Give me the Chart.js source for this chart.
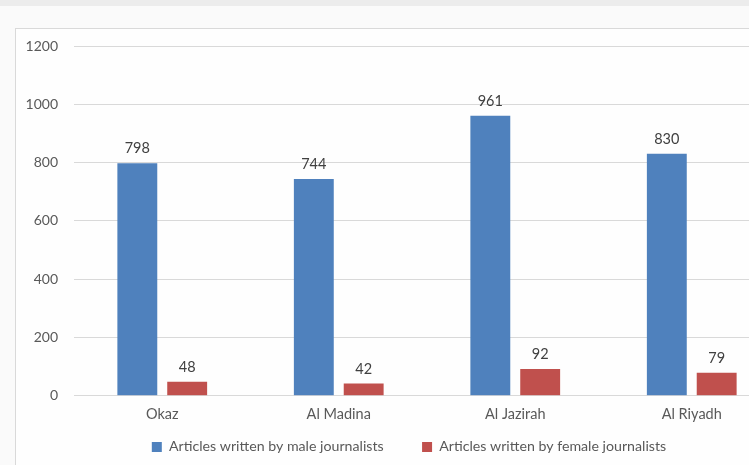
<!DOCTYPE html>
<html>
<head>
<meta charset="utf-8">
<script src="https://cdn.jsdelivr.net/npm/chart.js@4"></script>
<style>
  html, body { margin: 0; padding: 0; overflow: hidden; }
  body { width: 749px; height: 465px; background: #fafafa; position: relative; }
  .strip { position: absolute; left: 0; top: 0; width: 749px; height: 6px; background: #ececec; }
  .panel { position: absolute; left: 15px; top: 28px; width: 800px; height: 460px;
           border: 1px solid #d9d9d9; background: #fefefe; }
  #wrap { position: absolute; left: 16px; top: 29px; width: 790px; height: 436px; }
</style>
</head>
<body>
<div class="strip"></div>
<div class="panel"></div>
<div id="wrap"><canvas id="myChart"></canvas></div>
<script>
// Data chart
const categories = ['Okaz', 'Al Madina', 'Al Jazirah', 'Al Riyadh'];
const maleArticles = [798, 744, 961, 830];
const femaleArticles = [48, 42, 92, 79];
const yTicks = [0, 200, 400, 600, 800, 1000, 1200];

const textFont = { family: 'Lato', size: 14.5 };

// Plugin kecil untuk menulis nilai di atas bar
const valueLabels = {
    id: 'valueLabels',
    afterDatasetsDraw(chart) {
        const ctx = chart.ctx;
        ctx.save();
        ctx.font = '14.5px Lato';
        ctx.fillStyle = '#404040';
        ctx.textAlign = 'center';
        ctx.textBaseline = 'alphabetic';
        chart.data.datasets.forEach((ds, i) => {
            chart.getDatasetMeta(i).data.forEach((bar, j) => {
                ctx.fillText(ds.data[j], bar.x, bar.y - 10);
            });
        });
        ctx.restore();
    }
};

// Legenda digeser sedikit ke kanan (lebar area legenda sampai tepi kanan)
const legendShift = {
    id: 'legendShift',
    afterLayout(chart) {
        chart.legend.right += 22;
    }
};

document.addEventListener("DOMContentLoaded", function () {
    const ctx = document.getElementById('myChart').getContext('2d');
    new Chart(ctx, {
        type: 'bar',
        data: {
            labels: categories,
            datasets: [{
                label: 'Articles written by male journalists',
                data: maleArticles,
                backgroundColor: '#4f81bd'
            }, {
                label: 'Articles written by female journalists',
                data: femaleArticles,
                backgroundColor: '#c0504d'
            }]
        },
        options: {
            responsive: true,
            maintainAspectRatio: false,
            animation: false,
            categoryPercentage: 0.565,
            barPercentage: 0.8,
            layout: { padding: { top: 17, right: 26, left: 0, bottom: 1 } },
            plugins: {
                legend: {
                    position: 'bottom',
                    labels: {
                        boxWidth: 10,
                        boxHeight: 10,
                        padding: 10,
                        color: '#595959',
                        font: { family: 'Lato', size: 14.2 },
                        // jarak antar item legenda dibuat lebih lebar
                        generateLabels: (chart) => {
                            const items = Chart.defaults.plugins.legend.labels.generateLabels(chart);
                            items[0].text = items[0].text + '\u2003\u2003\u2002';
                            return items;
                        }
                    }
                },
                tooltip: { enabled: false }
            },
            scales: {
                x: {
                    afterFit: (axis) => { axis.height = 34; },
                    grid: { display: false, drawTicks: false },
                    border: { color: '#d9d9d9' },
                    ticks: { color: '#595959', font: textFont, padding: 10 }
                },
                y: {
                    min: 0,
                    max: 1200,
                    afterBuildTicks: (axis) => { axis.ticks = yTicks.map(v => ({ value: v })); },
                    afterFit: (axis) => {
                        axis.width = 58;
                        axis.paddingTop = 0;
                        axis.paddingBottom = 0;
                    },
                    grid: { color: '#d9d9d9', drawTicks: false },
                    border: { display: false },
                    ticks: {
                        color: '#595959',
                        font: { family: 'Lato', size: 14 },
                        padding: 16,
                        callback: (v) => String(v)
                    }
                }
            }
        },
        plugins: [valueLabels, legendShift]
    });
});
</script>
</body>
</html>
